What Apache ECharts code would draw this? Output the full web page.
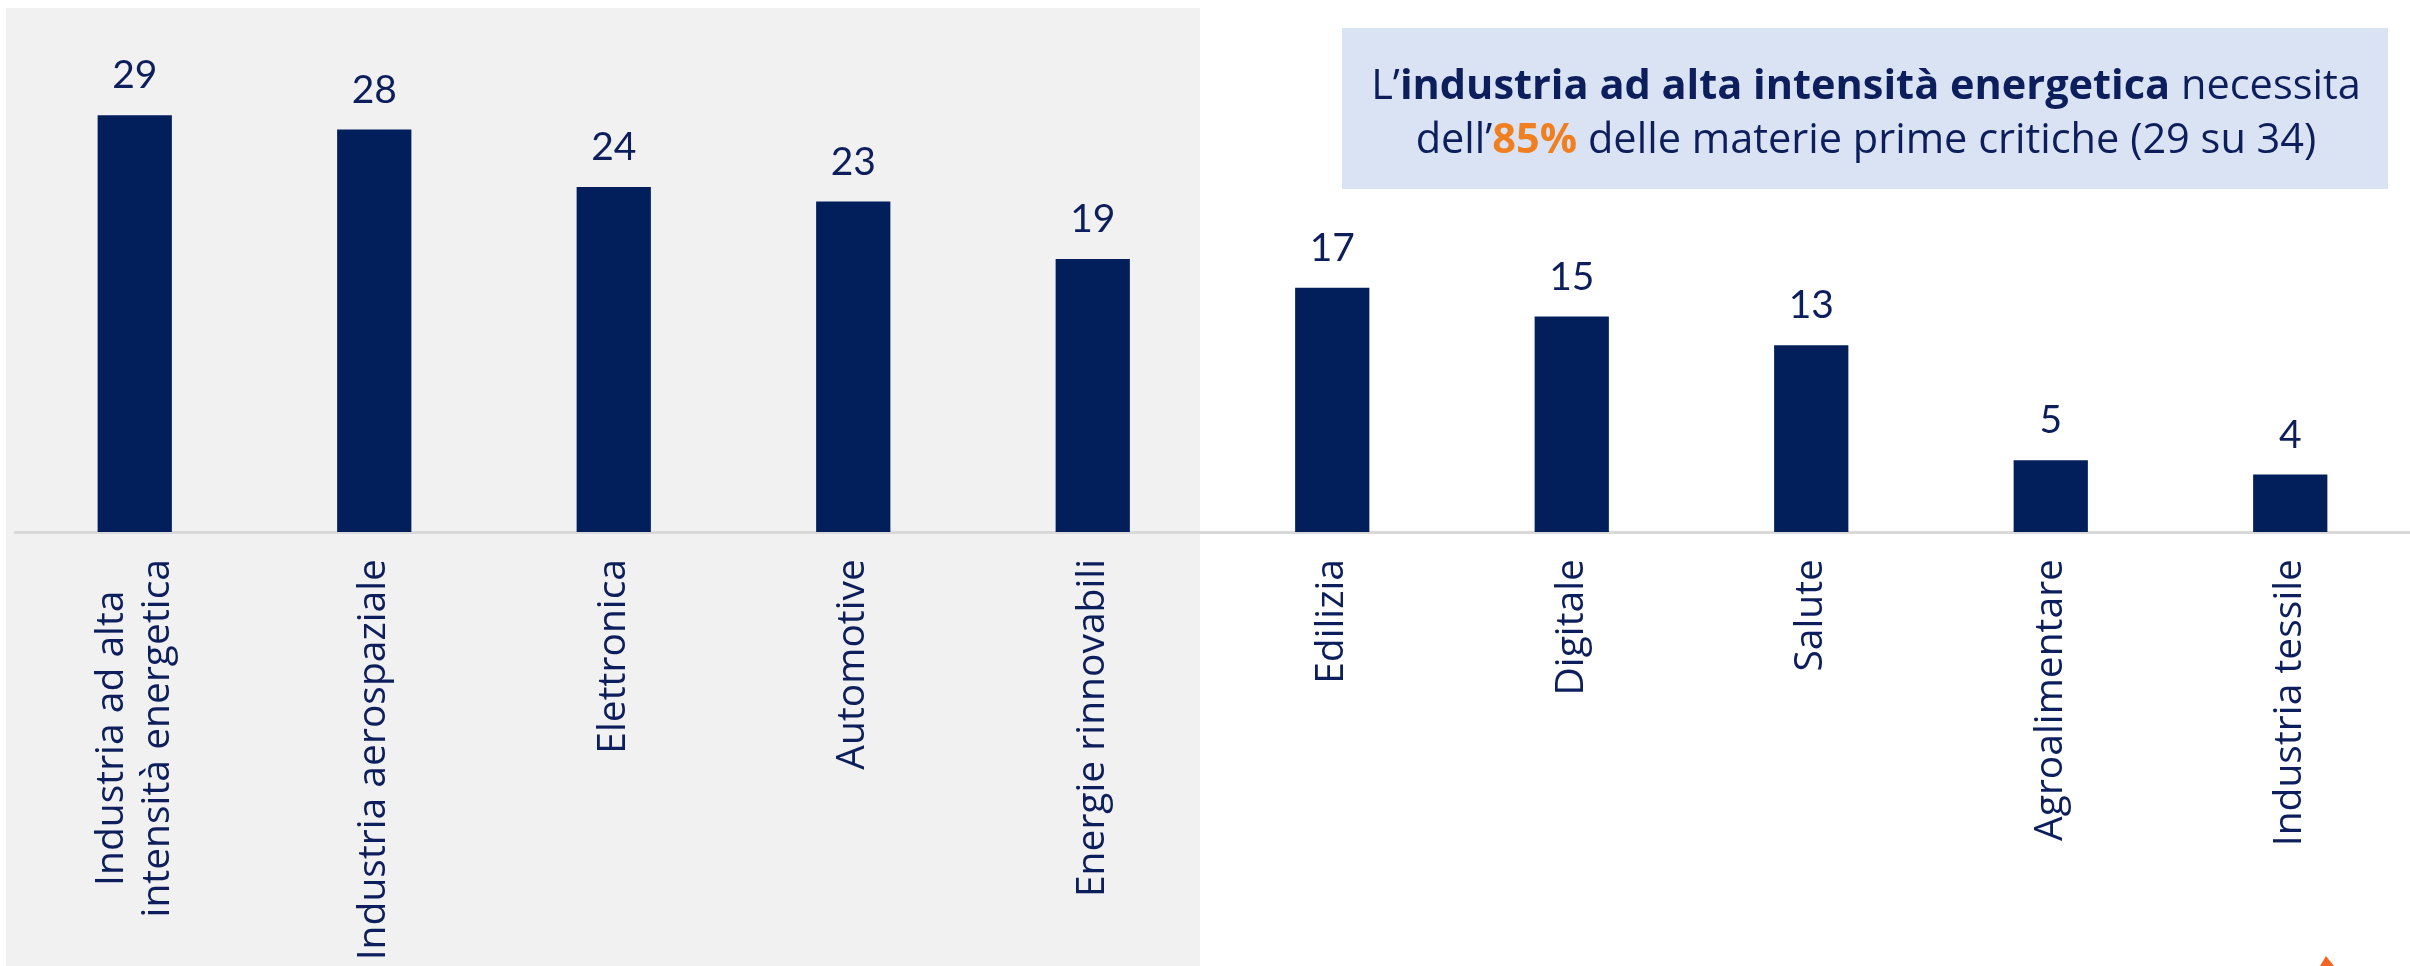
<!DOCTYPE html>
<html>
<head>
<meta charset="utf-8">
<script src="https://cdn.jsdelivr.net/npm/echarts@6/dist/echarts.min.js"></script>
<style>
html,body{margin:0;padding:0;background:#fff;}
#chart{width:2410px;height:966px;}
</style>
</head>
<body>
<div id="chart"></div>
<script>
const categories = [
  'Industria ad alta\nintensità energetica',
  'Industria aerospaziale',
  'Elettronica',
  'Automotive',
  'Energie rinnovabili',
  'Edilizia',
  'Digitale',
  'Salute',
  'Agroalimentare',
  'Industria tessile'
];
const values = [29, 28, 24, 23, 19, 17, 15, 13, 5, 4];

const NAVY = '#021f5c';
const TEXT = '#0c1f5c';
const ORANGE = '#f07f22';

const chart = echarts.init(document.getElementById('chart'));
chart.setOption({
  backgroundColor: '#ffffff',
  animation: false,
  graphic: [
    { type: 'rect', z: -10, silent: true,
      shape: { x: 6, y: 8, width: 1194, height: 960 },
      style: { fill: '#f1f1f1' } },
    { type: 'rect', z: 10, silent: true,
      shape: { x: 1342, y: 28, width: 1046, height: 161 },
      style: { fill: '#dae3f3' } },
    { type: 'text', z: 11, silent: true,
      x: 1866, y: 114,
      style: {
        text: '{r|L’}{b|industria ad alta intensità energetica}{r| necessita}\n{r|dell’}{o|85%}{r| delle materie prime critiche (29 su 34)}',
        align: 'center', verticalAlign: 'middle',
        rich: {
          r: { fontFamily: 'Open Sans', fontSize: 41.5, color: TEXT, fill: TEXT, lineHeight: 54 },
          b: { fontFamily: 'Open Sans', fontSize: 41.5, fontWeight: 'bold', color: TEXT, fill: TEXT, lineHeight: 54 },
          o: { fontFamily: 'Open Sans', fontSize: 41.5, fontWeight: 'bold', color: ORANGE, fill: ORANGE, lineHeight: 54 }
        }
      } },
    { type: 'polygon', silent: true,
      shape: { points: [[2320, 966], [2326, 956], [2334, 966]] },
      style: { fill: '#f26522' } }
  ],
  grid: { left: 15, right: -15, top: 29, bottom: 434, containLabel: false },
  xAxis: {
    type: 'category',
    data: categories,
    axisTick: { show: false },
    axisLine: { show: true, lineStyle: { color: '#d9d9d9', width: 3 } },
    axisLabel: {
      interval: 0,
      rotate: 90,
      margin: 27,
      color: TEXT,
      fontFamily: 'Open Sans',
      fontSize: 39,
      formatter: function (v) {
        return v.split('\n').map(function (s) { return '{c|' + s + '}'; }).join('\n');
      },
      rich: {
        c: { align: 'center', fontFamily: 'Open Sans', fontSize: 39, color: TEXT, lineHeight: 46 }
      }
    }
  },
  yAxis: {
    type: 'value',
    min: 0, max: 35,
    show: false,
    splitLine: { show: false }
  },
  series: [{
    type: 'bar',
    data: values,
    barWidth: '31%',
    itemStyle: { color: NAVY },
    label: {
      show: true,
      position: 'top',
      distance: 20,
      color: TEXT,
      fontFamily: 'Lato',
      fontSize: 39
    }
  }]
});
</script>
</body>
</html>
